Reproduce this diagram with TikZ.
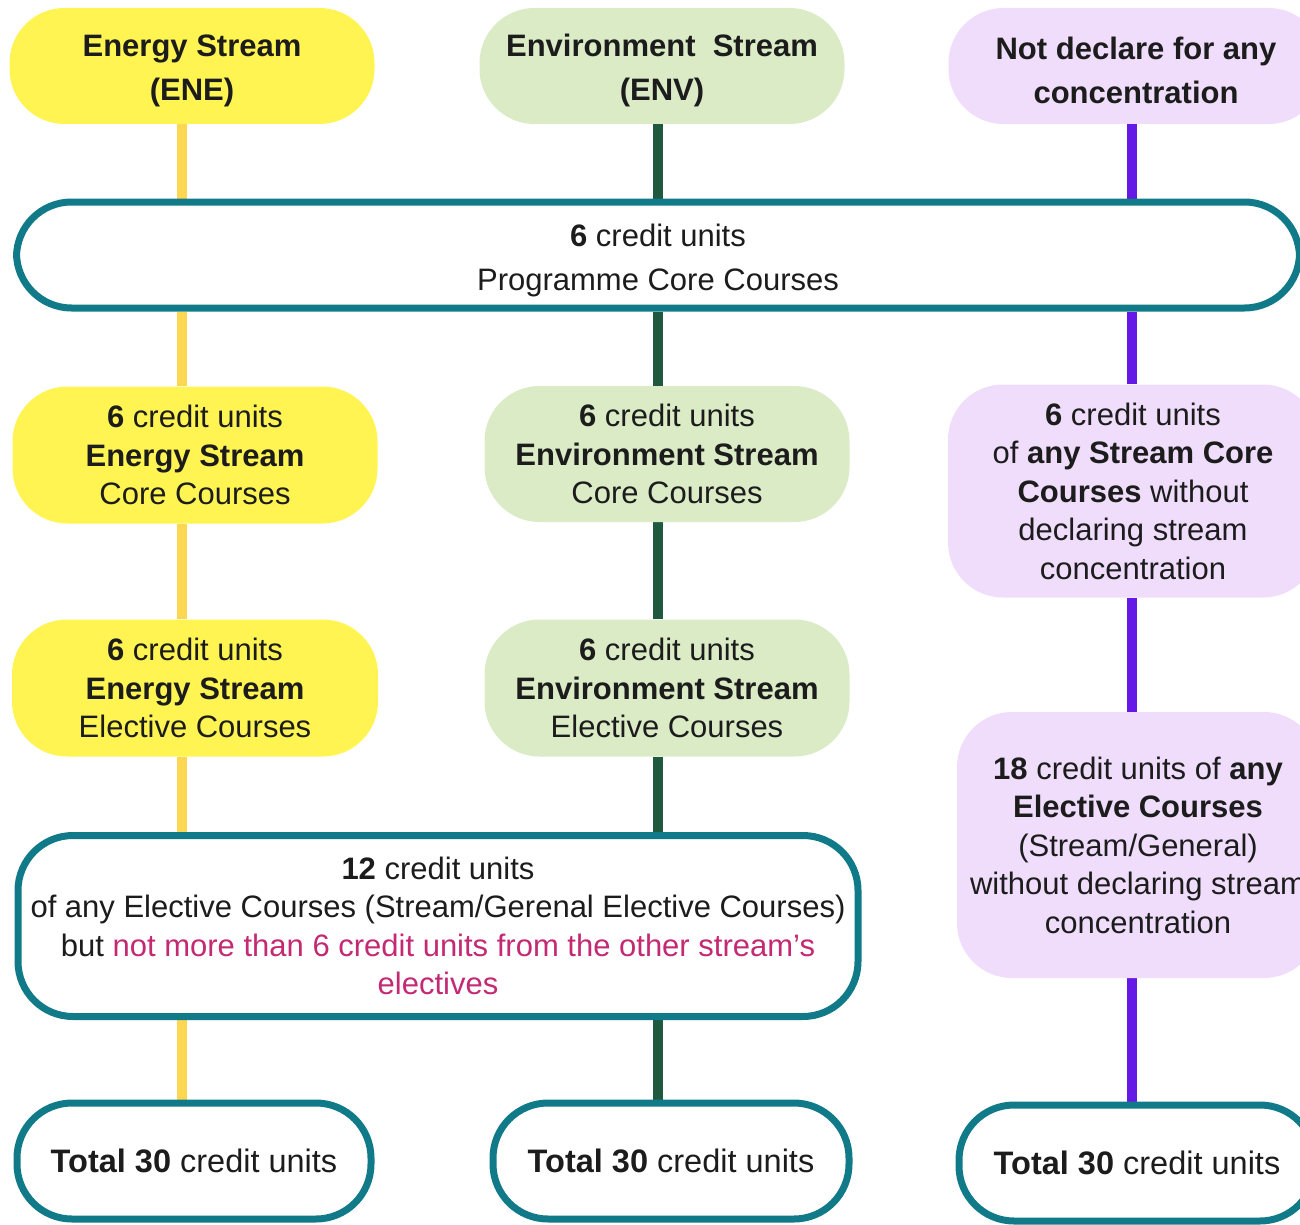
\documentclass[tikz,border=0pt]{standalone}
\usepackage{fontspec}
\setmainfont{Liberation Sans}
\usepackage{tikz}
\usetikzlibrary{positioning,calc}
\pgfdeclarelayer{background}
\pgfsetlayers{background,main}

\definecolor{eneFill}{HTML}{FFF452}
\definecolor{envFill}{HTML}{DAEBC6}
\definecolor{nodFill}{HTML}{EFDDFB}
\definecolor{eneLine}{HTML}{FFD651}
\definecolor{envLine}{HTML}{1F5A40}
\definecolor{nodLine}{HTML}{6419E6}
\definecolor{ringCol}{HTML}{107A89}
\definecolor{warnCol}{HTML}{C42A74}
\definecolor{txtCol}{HTML}{1C1C1C}

\newcommand{\topgap}[1]{\rule{0pt}{#1}}

\begin{document}
\begin{tikzpicture}[
	x=1pt, y=-1pt,
	every node/.style={text=txtCol, align=center, inner sep=0pt},
	big/.style={font=\fontsize{31}{44}\selectfont},
	small/.style={font=\fontsize{31}{38.5}\selectfont},
	tot/.style={font=\fontsize{32.5}{40}\selectfont},
	pill/.style={rounded corners=55pt},
	ene/.style={pill, fill=eneFill},
	env/.style={pill, fill=envFill},
	nod/.style={pill, fill=nodFill},
	ring/.style={pill, draw=ringCol, line width=7pt, fill=white},
	eneline/.style={draw=eneLine, line width=10pt},
	envline/.style={draw=envLine, line width=10pt},
	nodline/.style={draw=nodLine, line width=10pt}
	]
	\useasboundingbox (0,0) rectangle (1300,1225);
	\clip (0,0) rectangle (1300,1225);

	\coordinate (xE) at (182,0);
	\coordinate (xV) at (658,0);
	\coordinate (xN) at (1132,0);

	% top row
	\node[ene, big, minimum width=365pt, minimum height=116pt] (eneTop) at (192,66) {\topgap{31pt}\textbf{Energy Stream}\\\textbf{(ENE)}};
	\node[env, big, minimum width=365pt, minimum height=116pt] (envTop) at (662,66) {\topgap{31pt}\textbf{Environment\ \ Stream}\\\textbf{(ENV)}};
	\node[nod, big, minimum width=375pt, minimum height=116pt] (nodTop) at (1136,66) {\topgap{31pt}\textbf{Not declare for any}\\\textbf{concentration}};

	\node[ring, big, minimum width=1283pt, minimum height=106pt] (core) at (658,255) {\topgap{34pt}\textbf{6} credit units\\Programme Core Courses};

	% stream core
	\node[ene, small, minimum width=365pt, minimum height=137pt] (eneCore) at (195,455) {\textbf{6} credit units\\\textbf{Energy Stream}\\Core Courses};
	\node[env, small, minimum width=365pt, minimum height=136pt] (envCore) at (667,454) {\textbf{6} credit units\\\textbf{Environment Stream}\\Core Courses};
	\node[nod, small, minimum width=370pt, minimum height=213pt] (nodCore) at (1133,491) {\textbf{6} credit units\\of \textbf{any Stream Core}\\\textbf{Courses} without\\declaring stream\\concentration};

	% stream electives
	\node[ene, small, minimum width=366pt, minimum height=137pt] (eneElec) at (195,688) {\textbf{6} credit units\\\textbf{Energy Stream}\\Elective Courses};
	\node[env, small, minimum width=365pt, minimum height=137pt] (envElec) at (667,688) {\textbf{6} credit units\\\textbf{Environment Stream}\\Elective Courses};
	\node[nod, small, minimum width=362pt, minimum height=266pt] (nodElec) at (1138,845) {\textbf{18} credit units of \textbf{any}\\\textbf{Elective Courses}\\(Stream/General)\\without declaring stream\\concentration};

	\node[ring, small, minimum width=840pt, minimum height=181pt] (anyElec) at (438,926) {\textbf{12} credit units\\of any Elective Courses (Stream/Gerenal Elective Courses)\\but \textcolor{warnCol}{not more than 6 credit units from the other stream's}\\\textcolor{warnCol}{electives}};

	% totals
	\node[ring, tot, minimum width=354pt, minimum height=116pt] (totE) at (194,1161) {\textbf{Total 30} credit units};
	\node[ring, tot, minimum width=356pt, minimum height=116pt] (totV) at (671,1161) {\textbf{Total 30} credit units};
	\node[ring, tot, minimum width=356pt, minimum height=116pt] (totN) at (1137,1163) {\textbf{Total 30} credit units};

	\begin{pgfonlayer}{background}
		\draw[eneline] (eneTop.south -| xE) -- (core.north -| xE);
		\draw[eneline] (core.south -| xE) -- (eneCore.north -| xE);
		\draw[eneline] (eneCore.south -| xE) -- (eneElec.north -| xE);
		\draw[eneline] (eneElec.south -| xE) -- (anyElec.north -| xE);
		\draw[eneline] (anyElec.south -| xE) -- (totE.north -| xE);

		\draw[envline] (envTop.south -| xV) -- (core.north -| xV);
		\draw[envline] (core.south -| xV) -- (envCore.north -| xV);
		\draw[envline] (envCore.south -| xV) -- (envElec.north -| xV);
		\draw[envline] (envElec.south -| xV) -- (anyElec.north -| xV);
		\draw[envline] (anyElec.south -| xV) -- (totV.north -| xV);

		\draw[nodline] (nodTop.south -| xN) -- (core.north -| xN);
		\draw[nodline] (core.south -| xN) -- (nodCore.north -| xN);
		\draw[nodline] (nodCore.south -| xN) -- (nodElec.north -| xN);
		\draw[nodline] (nodElec.south -| xN) -- (totN.north -| xN);
	\end{pgfonlayer}

\end{tikzpicture}
\end{document}
